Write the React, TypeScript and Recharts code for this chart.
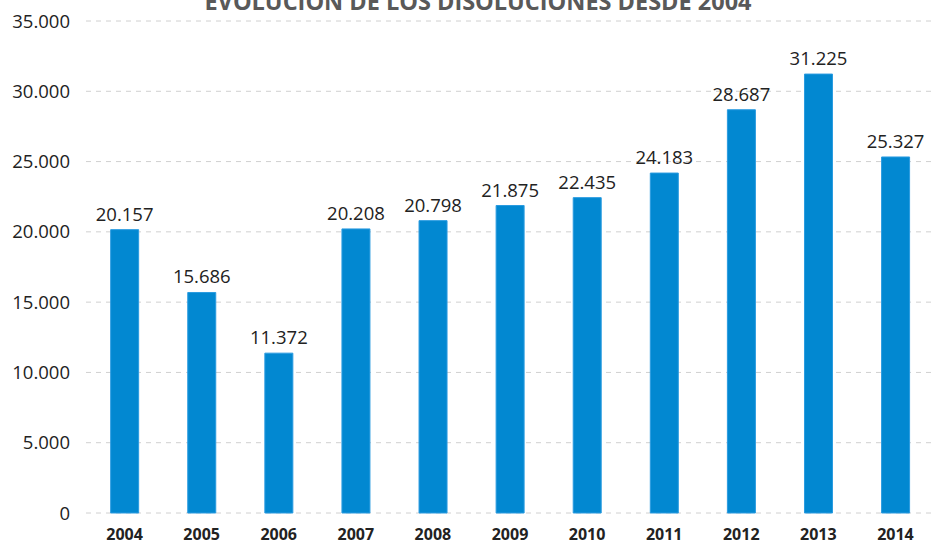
import React from "react";
import { BarChart, Bar, XAxis, YAxis, CartesianGrid, LabelList } from "recharts";

const years = ["2004", "2005", "2006", "2007", "2008", "2009", "2010", "2011", "2012", "2013", "2014"];
const dissolutions = [20157, 15686, 11372, 20208, 20798, 21875, 22435, 24183, 28687, 31225, 25327];
const yTicks = [0, 5000, 10000, 15000, 20000, 25000, 30000, 35000];
const title = "EVOLUCIÓN DE LOS DISOLUCIONES DESDE 2004";

const data = years.map((y, i) => ({ year: y, value: dissolutions[i] }));

const fmt = (v: number) => String(v).replace(/\B(?=(\d{3})+(?!\d))/g, ".");

export default function App() {
  return (
    <div style={{ position: "absolute", left: 0, top: 0, width: 938, height: 544, background: "#fff", overflow: "hidden" }}>
      <div
        style={{
          position: "absolute",
          left: 0,
          width: 938,
          top: -15,
          textAlign: "center",
          fontFamily: "'Open Sans', sans-serif",
          fontWeight: 700,
          fontSize: 23.5,
          color: "#595959",
          paddingLeft: 18,
          boxSizing: "border-box",
          whiteSpace: "nowrap",
        }}
      >
        {title}
      </div>
      <BarChart
        width={938}
        height={544}
        data={data}
        margin={{ top: 21, right: 4, bottom: 0, left: 0 }}
        barCategoryGap="32%"
      >
        <CartesianGrid vertical={false} stroke="#d0d0d0" strokeDasharray="5 5" />
        <XAxis
          dataKey="year"
          axisLine={false}
          tickLine={false}
          height={31}
          tick={{ fontFamily: "'Open Sans', sans-serif", fontWeight: 700, fontSize: 16, fill: "#222" }}
          tickMargin={10}
        />
        <YAxis
          domain={[0, 35000]}
          ticks={yTicks}
          axisLine={false}
          tickLine={false}
          width={86}
          tickFormatter={fmt}
          tickMargin={10}
          tick={{ fontFamily: "'Open Sans', sans-serif", fontSize: 18.5, fill: "#222" }}
        />
        <Bar dataKey="value" fill="#0288d1" stroke="#2a9be0" strokeWidth={1} isAnimationActive={false}>
          <LabelList
            dataKey="value"
            position="top"
            offset={9}
            formatter={(v: any) => fmt(Number(v))}
            style={{ fontFamily: "'Open Sans', sans-serif", fontSize: 18.5, fill: "#222" }}
          />
        </Bar>
      </BarChart>
    </div>
  );
}
